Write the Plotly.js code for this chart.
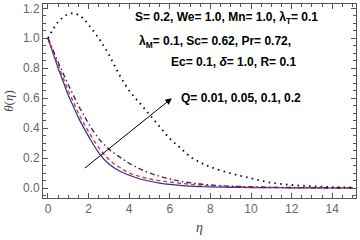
<!DOCTYPE html>
<html><head><meta charset="utf-8">
<script src="https://cdn.plot.ly/plotly-3.0.1.min.js"></script>
<style>html,body{margin:0;padding:0;background:#fff}#g{width:360px;height:240px}</style>
</head><body><div id="g"></div>
<script>
const eta = [0,0.25,0.5,0.75,1,1.25,1.5,1.75,2,2.5,3,3.5,4,4.5,5,5.5,6,6.5,7,7.5,8,9,10,11,12,13,14,15];
const thetaQ001 = [1.0,0.90,0.80,0.71,0.62,0.545,0.47,0.405,0.345,0.235,0.16,0.115,0.085,0.062,0.045,0.033,0.024,0.017,0.012,0.009,0.007,0.004,0.003,0.002,0.001,0.001,0.0,0.0];
const thetaQ005 = [1.0,0.91,0.82,0.735,0.65,0.575,0.50,0.435,0.375,0.27,0.19,0.14,0.10,0.078,0.06,0.049,0.04,0.032,0.025,0.02,0.015,0.009,0.005,0.003,0.002,0.001,0.0,0.0];
const thetaQ01 = [1.0,0.92,0.84,0.765,0.69,0.62,0.55,0.49,0.43,0.33,0.26,0.21,0.165,0.13,0.10,0.078,0.06,0.046,0.035,0.027,0.02,0.012,0.008,0.005,0.003,0.002,0.001,0.001];
const thetaQ02 = [1.0,1.06,1.11,1.14,1.162,1.167,1.155,1.13,1.09,1.0,0.89,0.76,0.65,0.57,0.49,0.41,0.33,0.27,0.21,0.17,0.14,0.098,0.065,0.035,0.02,0.012,0.006,0.003];

const traces = [
  {x: eta, y: thetaQ001, mode:'lines', line:{color:'#2e2e9e', width:1.2, dash:'solid', shape:'spline'}},
  {x: eta, y: thetaQ005, mode:'lines', line:{color:'#d23a3a', width:1.4, dash:'4px,3px', shape:'spline'}},
  {x: eta, y: thetaQ01, mode:'lines', line:{color:'#5a1f5e', width:1.4, dash:'5px,3px,1.5px,3px', shape:'spline'}},
  {x: eta, y: thetaQ02, mode:'lines', line:{color:'#111', width:1.8, dash:'1.6px,4.2px', shape:'spline'}}
];

const axCommon = {showgrid:false, zeroline:false, showline:true, linecolor:'#555', linewidth:1,
  ticks:'inside', ticklen:5, tickcolor:'#555', mirror:'ticks',
  tickfont:{family:'Liberation Sans', size:12, color:'#666'}};

const layout = {
  width:360, height:240, margin:{l:43, r:4, t:4, b:42},
  paper_bgcolor:'#fff', plot_bgcolor:'#fff', showlegend:false,
  xaxis: Object.assign({}, axCommon, {range:[-0.246,15.17], dtick:2, tick0:0,
     minor:{dtick:0.5, ticklen:3, tickcolor:'#555', ticks:'inside'},
     title:{text:'<i>η</i>', font:{family:'Liberation Serif', size:14, color:'#444'}, standoff:6}}),
  yaxis: Object.assign({}, axCommon, {range:[-0.0668,1.229], dtick:0.2, tick0:0, tickformat:'.1f',
     minor:{dtick:0.05, ticklen:3, tickcolor:'#555', ticks:'inside'},
     title:{text:'<i>θ</i>(<i>η</i>)', font:{family:'Liberation Serif', size:13, color:'#444'}, standoff:6}}),
  annotations: [
    {x:4.19, y:1.136, xref:'x', yref:'y', xanchor:'left', yanchor:'middle', showarrow:false,
     text:'<b>S= 0.2, We= 1.0, Mn= 1.0, λ<sub>T</sub>= 0.1</b>', font:{family:'Liberation Sans', size:12, color:'#000'}},
    {x:4.38, y:0.975, xref:'x', yref:'y', xanchor:'left', yanchor:'middle', showarrow:false,
     text:'<b>λ<sub>M</sub>= 0.1, Sc= 0.62, Pr= 0.72,</b>', font:{family:'Liberation Sans', size:12, color:'#000'}},
    {x:5.96, y:0.84, xref:'x', yref:'y', xanchor:'left', yanchor:'middle', showarrow:false,
     text:'<b>Ec= 0.1, <i>δ</i>= 1.0, R= 0.1</b>', font:{family:'Liberation Sans', size:12, color:'#000'}},
    {x:6.45, y:0.60, xref:'x', yref:'y', xanchor:'left', yanchor:'middle', showarrow:false,
     text:'<b>Q= 0.01, 0.05, 0.1, 0.2</b>', font:{family:'Liberation Sans', size:12, color:'#000'}},
    {x:6.1, y:0.60, ax:1.74, ay:0.125, xref:'x', yref:'y', axref:'x', ayref:'y', showarrow:true,
     arrowhead:2, arrowsize:1.3, arrowwidth:1, arrowcolor:'#000', text:''}
  ]
};
Plotly.newPlot('g', traces, layout, {staticPlot:true});
</script></body></html>
